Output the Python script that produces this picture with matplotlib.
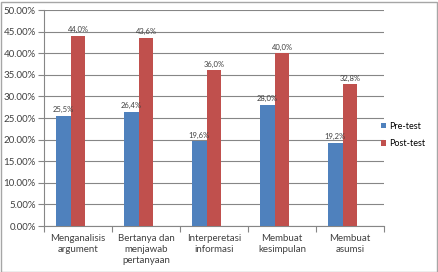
import matplotlib
matplotlib.use("Agg")
import matplotlib.pyplot as plt
from matplotlib.patches import Rectangle
import numpy as np

categories = ["Menganalisis\nargument", "Bertanya dan\nmenjawab\npertanyaan",
              "Interperetasi\ninformasi", "Membuat\nkesimpulan", "Membuat\nasumsi"]
pre_test = [25.5, 26.4, 19.6, 28.0, 19.2]
post_test = [44.0, 43.6, 36.0, 40.0, 32.8]
series_names = ["Pre-test", "Post-test"]
y_ticks = [0, 5, 10, 15, 20, 25, 30, 35, 40, 45, 50]

blue = "#4F81BD"
red = "#C0504D"
W, H = 438, 272

plt.rcParams['font.family'] = ['Lato', 'DejaVu Sans']

fig = plt.figure(figsize=(W / 100, H / 100), dpi=100)
fig.patches.append(Rectangle((0.5 / W, 0.5 / H), 1 - 2 / W, 1 - 2 / H,
                             transform=fig.transFigure, fill=False,
                             edgecolor="#A6A6A6", linewidth=1))
ax = fig.add_axes([44 / W, 1 - 226 / H, 340 / W, 216 / H])

x = np.arange(len(categories))
bw = 0.22
b1 = ax.bar(x - bw, pre_test, bw, color=blue, label=series_names[0], zorder=3)
b2 = ax.bar(x, post_test, bw, color=red, label=series_names[1], zorder=3)

def fmt(v):
    return f"{v:.1f}".replace(".", ",") + "%"

for bars, vals in ((b1, pre_test), (b2, post_test)):
    for r, v in zip(bars, vals):
        ax.text(r.get_x() + r.get_width() / 2, v + 0.6, fmt(v), ha="center",
                va="bottom", fontsize=5.5, color="#404040", zorder=4)

ax.set_xlim(-0.5, len(categories) - 0.5)
ax.set_ylim(0, 50)
ax.set_yticks(y_ticks)
ax.set_yticklabels([f"{t:.2f}%" for t in y_ticks], fontsize=7, color="#404040")
ax.yaxis.grid(True, color="#868686", linewidth=0.8, zorder=0)
ax.set_axisbelow(True)

ax.set_xticks(np.arange(len(categories) + 1) - 0.5)
ax.set_xticklabels([])
ax.set_xticks(x, minor=True)
ax.set_xticklabels(categories, minor=True, fontsize=7, color="#404040",
                   linespacing=1.25, va="top")
ax.tick_params(axis="x", which="minor", length=0, pad=6)
ax.tick_params(axis="x", which="major", length=4, color="#868686", direction="out")
ax.tick_params(axis="y", length=4, color="#868686", direction="out", pad=2)

for s in ["top", "right"]:
    ax.spines[s].set_visible(False)
for s in ["left", "bottom"]:
    ax.spines[s].set_color("#868686")
    ax.spines[s].set_linewidth(0.8)

ax.legend(loc="center left", bbox_to_anchor=(381 / W, 1 - 135 / H),
          bbox_transform=fig.transFigure, frameon=False, fontsize=6.5,
          handlelength=0.55, handleheight=0.55, handletextpad=0.35,
          labelspacing=0.9, borderpad=0, borderaxespad=0)

fig.savefig("out.png", dpi=100)
